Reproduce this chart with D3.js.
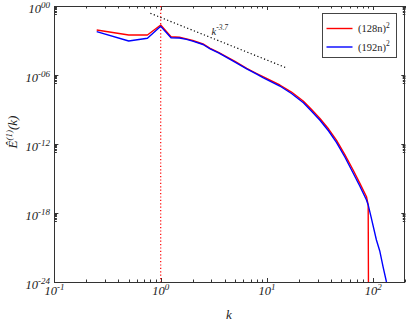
<!DOCTYPE html>
<meta charset="utf-8">
<style>
body { margin: 0; background: #fff; }
text { font-family: "Times New Roman", "Liberation Serif", Times, serif; font-style: italic; fill: #222; }
.legend text { font-style: normal; }
</style>
<svg width="407" height="322"></svg>
<script src="https://cdn.jsdelivr.net/npm/d3@7"></script>
<script>

// readings
var kRed = [0.25, 0.5, 0.75, 1, 1.25, 1.5, 1.75, 2, 2.5, 2.92, 3.5, 3.86, 5, 6.44, 8, 9.16, 13.2, 17, 21.9, 26, 31.5, 38, 45, 54, 64.6, 75, 86.3, 89.5, 90.5];
var eRed = [8.1e-3, 3.0e-3, 3.0e-3, 2.2e-2, 2.1e-3, 1.9e-3, 1.4e-3, 1.0e-3, 5.0e-4, 2.1e-4, 9.1e-5, 5.5e-5, 1.5e-5, 3.8e-6, 1.35e-6, 7.1e-7, 1.35e-7, 3.3e-8, 5.5e-9, 1.1e-9, 1.65e-10, 2.0e-11, 2.2e-12, 1.2e-13, 5.5e-15, 3.6e-16, 2.6e-17, 5e-18, 1e-30];

var kBlue = [0.25, 0.5, 0.75, 1, 1.25, 1.5, 1.75, 2, 2.5, 2.92, 3.5, 3.86, 5, 6.44, 8, 9.16, 13.2, 17, 22, 26, 31.5, 38, 45, 54, 64.6, 75, 86.3, 89.5, 95, 107, 115, 123.6, 133, 135.8];
var eBlue = [5.9e-3, 9.1e-4, 1.55e-3, 1.7e-2, 1.74e-3, 1.66e-3, 1.26e-3, 8.9e-4, 4.5e-4, 1.9e-4, 8.3e-5, 5.0e-5, 1.3e-5, 3.4e-6, 1.2e-6, 6.0e-7, 1.1e-7, 2.45e-8, 3.9e-9, 7.9e-10, 1.15e-10, 1.35e-11, 1.4e-12, 7.4e-14, 3.0e-15, 2.0e-16, 1.35e-17, 5e-18, 5e-19, 4.5e-21, 5e-22, 2.1e-23, 1e-24, 5e-25];

var seriesNames = ["(128n)", "(192n)"];
var seriesColors = ["#ff0000", "#0000ff"];

var guideK = [0.8, 15];      // k^-3.7 guide line
var guideE = [0.23, 4.4e-6];

var xTicks = [0.1, 1, 10, 100];
var xTickLabels = [["10", "-1"], ["10", "0"], ["10", "1"], ["10", "2"]];
var yTicks = [1, 1e-6, 1e-12, 1e-18, 1e-24];
var yTickLabels = [["10", "00"], ["10", "-06"], ["10", "-12"], ["10", "-18"], ["10", "-24"]];

(function() {
var svg = d3.select("svg");
var pl = 54.4, pr = 405.3, pt = 6, pb = 282;

var x = d3.scaleLog().domain([0.1, 200]).range([pl, pr]);
var y = d3.scaleLog().domain([1e-24, 1]).range([pb, pt]);

svg.append("clipPath").attr("id", "clip")
  .append("rect").attr("x", pl).attr("y", pt).attr("width", pr - pl).attr("height", pb - pt);

// minor ticks
var xMinor = [];
xTicks.forEach(function(d) {
  for (var m = 1; m <= 9; m++) if (d * m <= 200) xMinor.push(d * m);
});
var yMinor = [];
yTicks.forEach(function(d) {
  for (var m = 2; m <= 9; m++) if (d * m / 10 >= 1e-24) yMinor.push(d * m / 10);
});

var ax = svg.append("g").attr("stroke", "#333").attr("stroke-width", 1);
xMinor.forEach(function(v) {
  var len = xTicks.indexOf(v) >= 0 ? 4 : 2.5;
  var px = Math.round(x(v)) + 0.5;
  ax.append("line").attr("x1", px).attr("x2", px).attr("y1", pb).attr("y2", pb - len);
  ax.append("line").attr("x1", px).attr("x2", px).attr("y1", pt).attr("y2", pt + len);
});
yTicks.concat(yMinor).forEach(function(v) {
  var len = yTicks.indexOf(v) >= 0 ? 4 : 2.5;
  var py = Math.round(y(v)) + 0.5;
  ax.append("line").attr("x1", pl).attr("x2", pl + len).attr("y1", py).attr("y2", py);
  ax.append("line").attr("x1", pr).attr("x2", pr - len).attr("y1", py).attr("y2", py);
});
ax.append("rect").attr("x", Math.round(pl) + 0.5).attr("y", pt + 0.5)
  .attr("width", Math.round(pr - pl) - 1).attr("height", pb - pt)
  .attr("fill", "none");

// tick labels
xTicks.forEach(function(v, i) {
  var t = svg.append("text").attr("x", x(v)).attr("y", 295).attr("text-anchor", "middle")
    .style("font-size", "12.5px");
  t.append("tspan").text(xTickLabels[i][0]);
  t.append("tspan").attr("dy", -5).style("font-size", "9px").text(xTickLabels[i][1]);
});
yTicks.forEach(function(v, i) {
  var t = svg.append("text").attr("x", 50).attr("y", y(v) + 6.5).attr("text-anchor", "end")
    .style("font-size", "12.5px");
  t.append("tspan").text(yTickLabels[i][0]);
  t.append("tspan").attr("dy", -5).style("font-size", "9px").text(yTickLabels[i][1]);
});

// axis titles
svg.append("text").attr("x", 229).attr("y", 319).attr("text-anchor", "middle")
  .style("font-size", "13px").text("k");
var yl = svg.append("text").attr("transform", "translate(17,132) rotate(-90)")
  .attr("text-anchor", "middle").style("font-size", "13px");
yl.append("tspan").text("\u00CA");
yl.append("tspan").attr("dy", -5).style("font-size", "9px").text("(1)");
yl.append("tspan").attr("dy", 5).text("(k)");

var plot = svg.append("g").attr("clip-path", "url(#clip)");

// k = 1 marker
plot.append("line").attr("x1", x(1)).attr("x2", x(1)).attr("y1", pt).attr("y2", pb)
  .attr("stroke", "#ff0000").attr("stroke-width", 1.2).attr("stroke-dasharray", "1.2,2.2");

// guide
plot.append("path")
  .attr("d", d3.line().x(function(d) { return x(d); }).y(function(d, i) { return y(guideE[i]); })(guideK))
  .attr("stroke", "#000").attr("stroke-width", 1.2).attr("stroke-dasharray", "1.2,2.4").attr("fill", "none");
var gl = svg.append("text").attr("x", 211.5).attr("y", 35).style("font-size", "10.5px").attr("fill", "#333");
gl.append("tspan").text("k");
gl.append("tspan").attr("dy", -5).style("font-size", "7.5px").text("-3.7");

var line = d3.line().x(function(d) { return x(d[0]); }).y(function(d) { return y(d[1]); });
var series = [d3.zip(kRed, eRed), d3.zip(kBlue, eBlue)];
series.forEach(function(s, i) {
  plot.append("path").attr("d", line(s)).attr("fill", "none")
    .attr("stroke", seriesColors[i]).attr("stroke-width", 1.4).attr("stroke-linejoin", "round");
});

// legend
var lg = svg.append("g").attr("class", "legend");
lg.append("rect").attr("x", 322.5).attr("y", 13.5).attr("width", 74).attr("height", 44)
  .attr("fill", "#fff").attr("stroke", "#444");
seriesNames.forEach(function(n, i) {
  var yy = 28.5 + i * 18.5;
  lg.append("line").attr("x1", 326.5).attr("x2", 352.5).attr("y1", yy).attr("y2", yy)
    .attr("stroke", seriesColors[i]).attr("stroke-width", 1.4);
  var t = lg.append("text").attr("x", 358).attr("y", yy + 3.5).style("font-size", "10.5px");
  t.append("tspan").text(n);
  t.append("tspan").attr("dy", -4.5).style("font-size", "7.5px").text("2");
});
})();

</script>
